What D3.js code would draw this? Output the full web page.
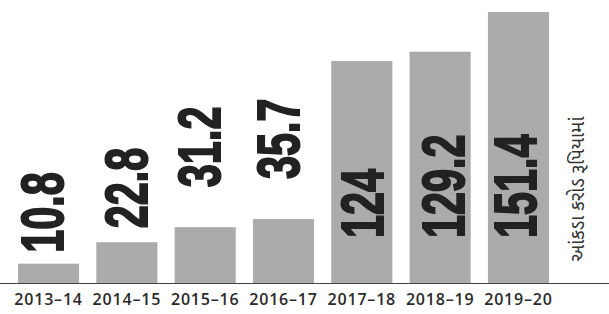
<!DOCTYPE html>
<html><head><meta charset="utf-8">
<script src="https://cdn.jsdelivr.net/npm/d3@7"></script>
<style>html,body{margin:0;padding:0;background:#fff;}svg{display:block;}</style>
</head><body>
<script>
const categories = ["2013–14","2014–15","2015–16","2016–17","2017–18","2018–19","2019–20"];
const values = [10.8, 22.8, 31.2, 35.7, 124, 129.2, 151.4];
const valueLabels = ["10.8","22.8","31.2","35.7","124","129.2","151.4"];
const unitLabel = "આંકડા કરોડ રૂપિયામાં";

// layout tweaks (not data)
const labelGap = [11, 14, 40, 40, 0, 0, 0];
const labelDx = [-8, -2, -7, -7, -1, 2, -4];

const W = 609, H = 314;
const svg = d3.select("body").append("svg").attr("width", W).attr("height", H);

const base = 283;
const x = d3.scaleBand().domain(categories).range([18, 549]).paddingInner(0.22).paddingOuter(0);
const y = d3.scaleLinear().domain([0, 151.4]).range([base, 12]);

svg.selectAll("rect.bar").data(values).join("rect")
  .attr("class","bar")
  .attr("x", (d,i) => x(categories[i]))
  .attr("width", x.bandwidth())
  .attr("y", d => y(d))
  .attr("height", d => base - y(d))
  .attr("fill", "#ababab");

// axis
const axis = d3.axisBottom(x).tickSize(0).tickPadding(0);
const gA = svg.append("g").attr("transform", `translate(0,${base})`).call(axis);
gA.select(".domain").remove();
gA.selectAll("text")
  .attr("y", 22).attr("dy", 0)
  .attr("font-family", "'Open Sans', sans-serif")
  .attr("font-weight", 600)
  .attr("font-size", 16)
  .attr("letter-spacing", "0.8px")
  .attr("fill", "#2a2a2a");
svg.append("line").attr("x1",0).attr("x2",W).attr("y1",base+0.5).attr("y2",base+0.5)
  .attr("stroke","#444").attr("stroke-width",1.2);

// value labels
const capH = 44;
svg.selectAll("text.val").data(values).join("text")
  .attr("class","val")
  .attr("transform", (d,i) => {
    const cx = x(categories[i]) + x.bandwidth()/2 + labelDx[i] + capH/2;
    const inside = d > 100;
    const yStart = inside ? base - 45 : y(d) - labelGap[i];
    return `translate(${cx},${yStart}) rotate(-90) scale(0.69,1)`;
  })
  .attr("font-family", "'Liberation Sans', Arial, sans-serif")
  .attr("font-weight", 700)
  .attr("font-size", 60)
  .attr("fill", "#222")
  .attr("stroke", "#222")
  .attr("stroke-width", 2)
  .text((d,i) => valueLabels[i]);

// unit label
svg.append("text")
  .attr("transform", `translate(584,189) rotate(-90)`)
  .attr("text-anchor","middle")
  .attr("font-family", "'Noto Sans Gujarati', 'Noto Sans', sans-serif")
  .attr("font-size", 19)
  .attr("fill", "#333")
  .text(unitLabel);
</script>
</body></html>
